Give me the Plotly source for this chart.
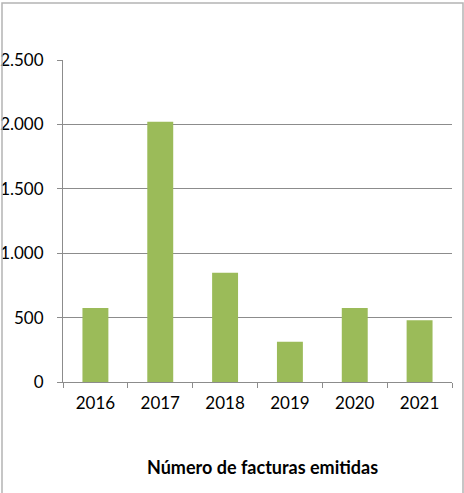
import plotly.graph_objects as go

# Data
years = ["2016", "2017", "2018", "2019", "2020", "2021"]
facturas = [575, 2020, 848, 313, 575, 479]
y_ticks = [0, 500, 1000, 1500, 2000, 2500]

W, H = 464, 493
M_LEFT, M_RIGHT, M_TOP, M_BOTTOM = 63, 12, 60, 111
plot_w = W - M_LEFT - M_RIGHT
plot_h = H - M_TOP - M_BOTTOM


def px_to_paper_x(px):
    return (px - M_LEFT) / plot_w


def px_to_paper_y(py):
    return (H - M_BOTTOM - py) / plot_h


fig = go.Figure()

fig.add_trace(go.Bar(
    x=years, y=facturas,
    marker=dict(color="#9BBB59", line=dict(width=0)),
    hovertemplate="%{x}: %{y}<extra></extra>",
))

# outer chart border (left, top, right; bottom is cut off in the reference)
fig.add_shape(
    type="path", xref="paper", yref="paper",
    path=(f"M {px_to_paper_x(2)},{px_to_paper_y(500)} "
          f"L {px_to_paper_x(2)},{px_to_paper_y(3)} "
          f"L {px_to_paper_x(463)},{px_to_paper_y(3)} "
          f"L {px_to_paper_x(463)},{px_to_paper_y(500)}"),
    line=dict(color="#b4b4b4", width=1.5),
)

fig.add_annotation(
    text="<b>Número de facturas emitidas</b>",
    xref="paper", yref="paper",
    x=px_to_paper_x(262), y=px_to_paper_y(467),
    xanchor="center", yanchor="middle",
    showarrow=False, font=dict(size=18, color="#000000"),
)

fig.update_layout(
    width=W, height=H, autosize=False,
    margin=dict(l=M_LEFT, r=M_RIGHT, t=M_TOP, b=M_BOTTOM),
    paper_bgcolor="white", plot_bgcolor="white",
    font=dict(family="Lato, Carlito, sans-serif", size=17, color="#000000"),
    separators=",.",
    bargap=0.6,
    showlegend=False,
    xaxis=dict(
        showline=True, linecolor="#8c8c8c", linewidth=1,
        ticks="outside", ticklen=5, tickcolor="#8c8c8c",
        tickson="boundaries", showgrid=False, automargin=False,
        ticklabelstandoff=6,
    ),
    yaxis=dict(
        range=[0, 2500], tickvals=y_ticks, tickformat=",d",
        showline=True, linecolor="#8c8c8c", linewidth=1,
        ticks="outside", ticklen=5, tickcolor="#8c8c8c",
        showgrid=True, gridcolor="#8c8c8c", gridwidth=1,
        zeroline=False, ticklabelstandoff=10, automargin=False,
    ),
)

# the page's default body margin would shift the 464x493 figure
fig.write_html(
    "out.html",
    config={"displayModeBar": False},
    post_script="document.body.style.margin = '0';",
)
